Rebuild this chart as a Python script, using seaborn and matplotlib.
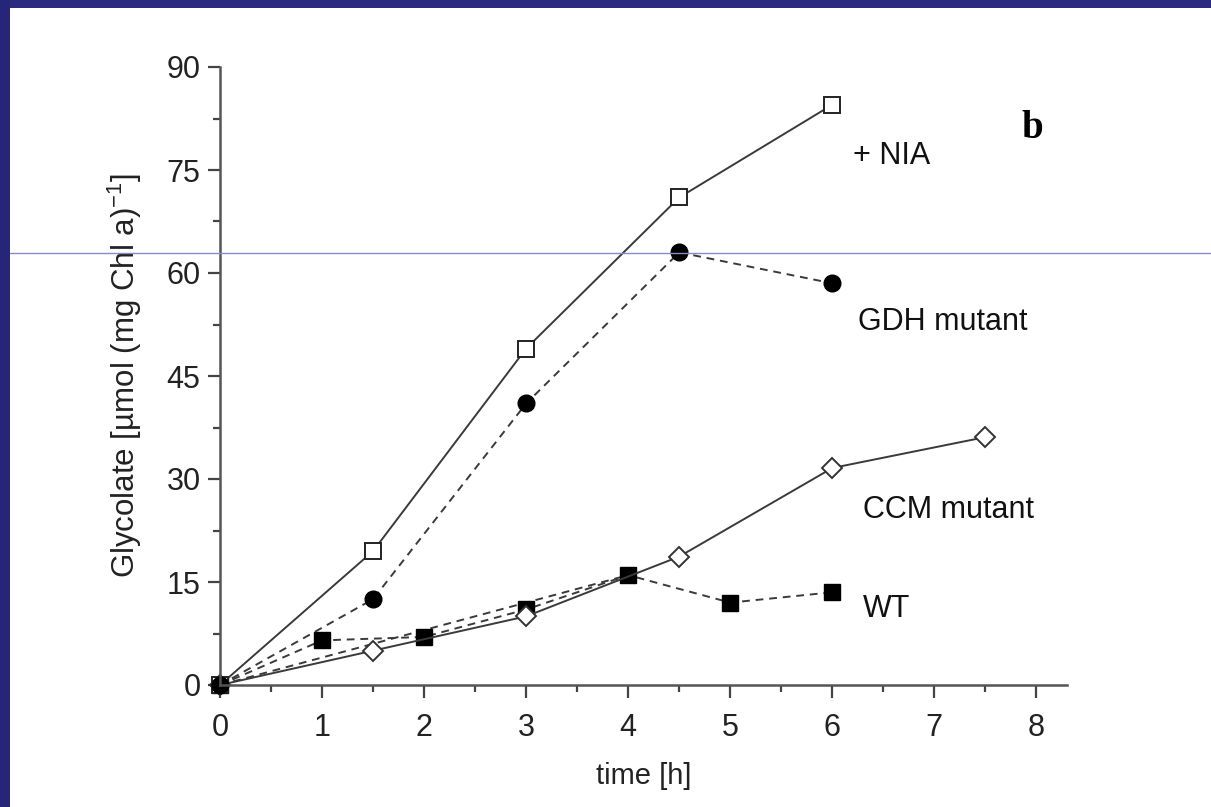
import matplotlib
matplotlib.use("Agg")
import matplotlib.pyplot as plt
import seaborn as sns
from matplotlib.patches import Rectangle
from matplotlib.lines import Line2D
from matplotlib.ticker import MultipleLocator

# Glycolate accumulation over time for each strain / treatment
nia_t = [0, 1.5, 3, 4.5, 6]
nia_v = [0, 19.5, 49, 71, 84.5]

gdh_t = [0, 1.5, 3, 4.5, 6]
gdh_v = [0, 12.5, 41, 63, 58.5]

ccm_t = [0, 1.5, 3, 4.5, 6, 7.5]
ccm_v = [0, 5, 10, 18.7, 31.6, 36.1]

wt_t = [0, 1, 2, 3, 4, 5, 6]
wt_v = [0, 6.5, 7, 11, 16, 12, 13.5]

wt_trend_t = [0, 4]
wt_trend_v = [0, 16]

series_labels = ["+ NIA", "GDH mutant", "CCM mutant", "WT"]
label_pos = [(6.2, 77), (6.25, 52.8), (6.3, 25.5), (6.3, 11)]

sns.set_style("white")
plt.rcParams["font.family"] = ["Liberation Sans", "DejaVu Sans"]
plt.rcParams["mathtext.fontset"] = "custom"
plt.rcParams["mathtext.rm"] = "Liberation Sans"
plt.rcParams["mathtext.it"] = "Liberation Sans:italic"
plt.rcParams["mathtext.bf"] = "Liberation Sans:bold"
plt.rcParams["mathtext.default"] = "regular"

fig = plt.figure(figsize=(12.11, 8.07), dpi=100)
fig.patch.set_facecolor("white")
ax = fig.add_axes([220 / 1211, 1 - 685 / 807, (1067 - 220) / 1211, (685 - 67) / 807])

line_col = "#3a3a3a"
dash = (0, (4, 3))
common = dict(estimator=None, sort=False, ax=ax, legend=False, clip_on=False)

sns.lineplot(x=wt_trend_t, y=wt_trend_v, color=line_col, linestyle=dash,
             linewidth=1.4, **common)
sns.lineplot(x=wt_t, y=wt_v, color=line_col, linestyle=dash, linewidth=1.4,
             marker="s", markersize=11, markerfacecolor="black",
             markeredgecolor="black", markeredgewidth=1, **common)
sns.lineplot(x=ccm_t, y=ccm_v, color=line_col, linestyle="-", linewidth=1.4,
             marker="D", markersize=10, markerfacecolor="white",
             markeredgecolor="#333333", markeredgewidth=1.4, **common)
sns.lineplot(x=nia_t, y=nia_v, color=line_col, linestyle="-", linewidth=1.4,
             marker="s", markersize=11, markerfacecolor="white",
             markeredgecolor="#222222", markeredgewidth=1.4, **common)
sns.lineplot(x=gdh_t, y=gdh_v, color=line_col, linestyle=dash, linewidth=1.4,
             marker="o", markersize=12, markerfacecolor="black",
             markeredgecolor="black", markeredgewidth=1, **common)

ax.set_xlim(0, 8.3)
ax.set_ylim(0, 90)
ax.xaxis.set_major_locator(MultipleLocator(1))
ax.xaxis.set_minor_locator(MultipleLocator(0.5))
ax.yaxis.set_major_locator(MultipleLocator(15))
ax.yaxis.set_minor_locator(MultipleLocator(7.5))

for side in ("top", "right"):
    ax.spines[side].set_visible(False)
for side in ("left", "bottom"):
    ax.spines[side].set_color("#555555")
    ax.spines[side].set_linewidth(1.8)

ax.tick_params(axis="both", which="major", direction="out", length=9, width=1.6,
               color="#444444", labelsize=22, labelcolor="#222222")
ax.tick_params(axis="x", which="major", pad=11)
ax.tick_params(axis="y", which="major", pad=5)
ax.tick_params(axis="both", which="minor", direction="out", length=5, width=1.6,
               color="#444444")
ax.tick_params(axis="x", which="both", bottom=True)
ax.tick_params(axis="y", which="both", left=True)

ax.set_xlabel("time [h]", fontsize=21, color="#222222", labelpad=14)
ax.set_ylabel("Glycolate [µmol (mg Chl a)$^{-1}$]", fontsize=22.5, color="#222222",
              labelpad=16)

for txt, (x, y) in zip(series_labels, label_pos):
    ax.text(x, y, txt, fontsize=22, color="#111111", ha="left", va="center")

ax.text(7.85, 81, "b", fontsize=28, fontweight="bold", family="Liberation Serif",
        ha="left", va="center", color="black")

# slide frame: navy band along the top and left edges
fig.patches.append(Rectangle((0, 1 - 8 / 807), 1, 8 / 807, transform=fig.transFigure,
                             facecolor="#2a2a7e", edgecolor="none", zorder=10))
fig.patches.append(Rectangle((0, 0), 10 / 1211, 1, transform=fig.transFigure,
                             facecolor="#25257a", edgecolor="none", zorder=10))
fig.lines.append(Line2D([10 / 1211, 1], [1 - 253 / 807, 1 - 253 / 807],
                        transform=fig.transFigure, color="#8a8ac8", linewidth=1,
                        zorder=11))

fig.savefig("out.png", dpi=100, facecolor="white")
